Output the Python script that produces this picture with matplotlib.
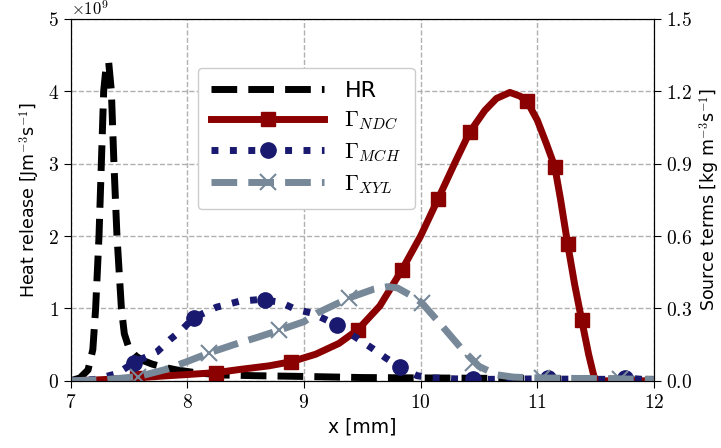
import matplotlib
matplotlib.use("Agg")
import matplotlib.pyplot as plt
from matplotlib.lines import Line2D
from matplotlib.ticker import FuncFormatter

plt.rcParams['mathtext.fontset'] = 'cm'

# heat release (units of 1e9 J m^-3 s^-1)
hr_x = [7.00, 7.08, 7.149, 7.19, 7.214, 7.243, 7.263, 7.283, 7.305, 7.326,
        7.349, 7.371, 7.397, 7.435, 7.46, 7.50, 7.56, 7.62, 7.70, 7.79,
        7.91, 8.08, 8.30, 8.60, 9.00, 9.50, 10.0, 10.5, 11.0, 11.5, 12.0]
hr_y = [0.00, 0.04, 0.15, 0.43, 1.0, 2.0, 3.0, 4.0, 4.36, 4.4,
        4.0, 3.0, 2.0, 1.0, 0.65, 0.45, 0.34, 0.28, 0.23, 0.19,
        0.15, 0.11, 0.08, 0.07, 0.06, 0.045, 0.04, 0.035, 0.03, 0.025, 0.02]

# source terms (kg m^-3 s^-1)
ndc_x = [7.0, 7.2, 7.4, 7.56, 7.8, 8.0, 8.25, 8.45, 8.7, 8.89, 9.1, 9.3,
         9.46, 9.65, 9.84, 10.0, 10.15, 10.3, 10.42, 10.55, 10.65, 10.765,
         10.85, 10.91, 11.0, 11.08, 11.15, 11.2, 11.26, 11.32, 11.38, 11.44,
         11.49, 11.55, 12.0]
ndc_y = [0.0, 0.003, 0.008, 0.012, 0.02, 0.026, 0.034, 0.047, 0.062, 0.079,
         0.11, 0.155, 0.211, 0.31, 0.46, 0.6, 0.754, 0.91, 1.03, 1.12, 1.17,
         1.195, 1.18, 1.16, 1.08, 0.98, 0.887, 0.75, 0.568, 0.40, 0.253, 0.11,
         0.01, 0.0, 0.0]
ndc_mx = [7.57, 8.25, 8.89, 9.46, 9.84, 10.15, 10.42, 10.91, 11.15, 11.26, 11.38]
ndc_my = [0.012, 0.034, 0.079, 0.211, 0.46, 0.754, 1.03, 1.16, 0.887, 0.568, 0.253]

mch_x = [7.0, 7.2, 7.4, 7.54, 7.74, 7.85, 7.95, 8.055, 8.25, 8.45, 8.6, 8.664,
         8.8, 8.92, 9.07, 9.28, 9.45, 9.59, 9.70, 9.82, 9.97, 10.1, 10.3,
         10.6, 11.0, 11.09, 11.2, 11.6, 11.75, 11.9, 12.0]
mch_y = [0.0, 0.005, 0.03, 0.075, 0.12, 0.17, 0.21, 0.261, 0.305, 0.33, 0.336,
         0.335, 0.325, 0.298, 0.28, 0.232, 0.178, 0.133, 0.095, 0.058, 0.021,
         0.012, 0.008, 0.006, 0.008, 0.012, 0.007, 0.006, 0.012, 0.006, 0.005]
mch_mx = [7.54, 8.055, 8.664, 9.28, 9.82, 10.45, 11.09, 11.75]
mch_my = [0.075, 0.261, 0.335, 0.232, 0.058, 0.008, 0.012, 0.012]

xyl_x = [7.0, 7.3, 7.575, 7.8, 8.0, 8.19, 8.4, 8.6, 8.79, 9.0, 9.11, 9.39,
         9.6, 9.72, 9.8, 9.93, 10.01, 10.19, 10.36, 10.5, 10.65, 10.8, 11.04,
         11.3, 11.71, 12.0]
xyl_y = [0.0, 0.005, 0.017, 0.045, 0.08, 0.116, 0.15, 0.18, 0.21, 0.245, 0.28,
         0.344, 0.38, 0.39, 0.385, 0.35, 0.323, 0.224, 0.128, 0.06, 0.025,
         0.015, 0.012, 0.01, 0.008, 0.005]
xyl_mx = [7.575, 8.19, 8.79, 9.39, 10.01, 10.45, 11.04, 11.71]
xyl_my = [0.017, 0.116, 0.21, 0.344, 0.323, 0.075, 0.012, 0.008]

labels = ['HR', r'$\Gamma_{NDC}$', r'$\Gamma_{MCH}$', r'$\Gamma_{XYL}$']
colors = ['black', '#8b0000', '#191970', '#778899']


def main():
    fig = plt.figure(figsize=(7.21, 4.48), dpi=100)
    ax = fig.add_axes([0.098, 0.150, 0.809, 0.808])
    ax2 = ax.twinx()

    lw = 5
    ax.plot(hr_x, hr_y, color=colors[0], lw=lw, ls='--')

    ax2.plot(ndc_x, ndc_y, color=colors[1], lw=lw, ls='-')
    ax2.plot(ndc_mx, ndc_my, color=colors[1], ls='none', marker='s', ms=10)
    ax2.plot(mch_x, mch_y, color=colors[2], lw=lw, ls=':')
    ax2.plot(mch_mx, mch_my, color=colors[2], ls='none', marker='o', ms=11)
    ax2.plot(xyl_x, xyl_y, color=colors[3], lw=lw, ls='--')
    ax2.plot(xyl_mx, xyl_my, color=colors[3], ls='none', marker='x', ms=11, mew=1.5)

    ax.set_xlim(7, 12)
    ax.set_ylim(0, 5)
    ax2.set_ylim(0, 1.5)
    ax.set_xticks([7, 8, 9, 10, 11, 12])
    ax.set_yticks([0, 1, 2, 3, 4, 5])
    ax2.set_yticks([0, 0.3, 0.6, 0.9, 1.2, 1.5])
    ax.xaxis.set_major_formatter(FuncFormatter(lambda v, p: '$%d$' % v))
    ax.yaxis.set_major_formatter(FuncFormatter(lambda v, p: '$%d$' % v))
    ax2.yaxis.set_major_formatter(FuncFormatter(lambda v, p: '$%.1f$' % v))
    ax.tick_params(labelsize=14, length=5)
    ax2.tick_params(labelsize=14, length=5)

    ax.grid(True, ls='--', color='#b0b0b0', lw=1)
    ax.set_axisbelow(True)

    ax.text(0.0, 1.0, r'$\times10^{9}$', transform=ax.transAxes, fontsize=12,
            ha='left', va='bottom')

    ax.set_xlabel('x [mm]', fontsize=13.5)
    ax.set_ylabel(r'Heat release [Jm$^{-3}$s$^{-1}$]', fontsize=12.5)
    ax2.set_ylabel(r'Source terms [kg m$^{-3}$s$^{-1}$]', fontsize=12.5)

    handles = [
        Line2D([], [], color=colors[0], lw=lw, ls='--'),
        Line2D([], [], color=colors[1], lw=lw, ls='-', marker='s', ms=10),
        Line2D([], [], color=colors[2], lw=lw, ls=':', marker='o', ms=11),
        Line2D([], [], color=colors[3], lw=lw, ls='--', marker='x', ms=11, mew=1.5),
    ]
    ax2.legend(handles, labels, loc='upper left', bbox_to_anchor=(0.218, 0.865),
               borderaxespad=0, fontsize=16, handlelength=5.1, handletextpad=0.9,
               labelspacing=0.42, borderpad=0.6, framealpha=1)

    fig.savefig('out.png', dpi=100)


if __name__ == '__main__':
    main()
